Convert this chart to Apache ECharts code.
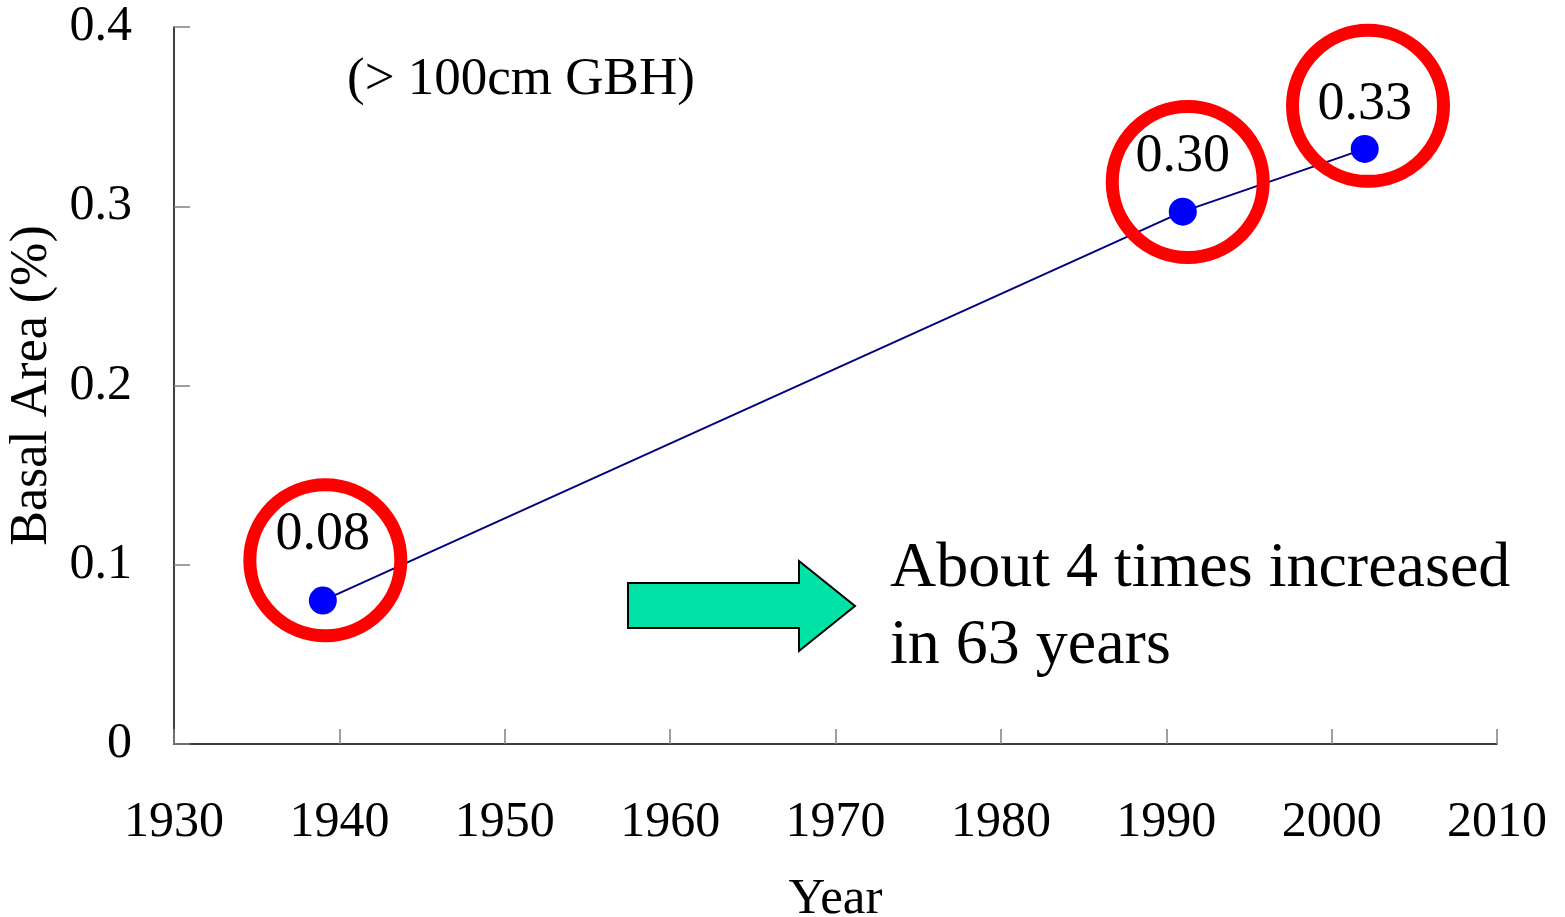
<!DOCTYPE html>
<html>
<head>
<meta charset="utf-8">
<script src="https://cdn.jsdelivr.net/npm/echarts@6/dist/echarts.min.js"></script>
<style>
html,body{margin:0;padding:0;background:#fff;}
#chart{width:1565px;height:917px;}
</style>
</head>
<body>
<div id="chart"></div>
<script>
// Data
const years = [1939, 1991, 2002];
const basalArea = [0.08, 0.297, 0.332];
const pointLabels = ['0.08', '0.30', '0.33'];
const labelDistances = [25, 14, 3];
// Highlight circle annotation centres (data coordinates)
const circleYears = [1939.15, 1991.3, 2002.2];
const circleValues = [0.1025, 0.3135, 0.356];
const xTicks = [1930, 1940, 1950, 1960, 1970, 1980, 1990, 2000, 2010];
const yTicks = [0, 0.1, 0.2, 0.3, 0.4];
const noteText = '(> 100cm GBH)';
const conclusionText = 'About 4 times increased\nin 63 years';

const FONT = "'Liberation Serif', 'Times New Roman', serif";

const chart = echarts.init(document.getElementById('chart'), null, {renderer: 'canvas'});

const lineData = years.map((y, i) => ({
  value: [y, basalArea[i]],
  label: {show: true, formatter: pointLabels[i], distance: labelDistances[i]}
}));
const circleData = circleYears.map((y, i) => [y, circleValues[i]]);

const option = {
  backgroundColor: '#ffffff',
  animation: false,
  grid: {left: 174, right: 68, top: 27, bottom: 173, containLabel: false, outerBoundsMode: 'none'},
  xAxis: {
    type: 'value',
    min: xTicks[0],
    max: xTicks[xTicks.length - 1],
    interval: 10,
    name: 'Year',
    nameLocation: 'middle',
    nameGap: 130,
    nameTextStyle: {fontFamily: FONT, fontSize: 51, color: '#000'},
    axisLine: {lineStyle: {color: '#000', width: 1.5}},
    axisTick: {inside: true, length: 15, lineStyle: {color: '#808080', width: 1.5}},
    axisLabel: {fontFamily: FONT, fontSize: 50, color: '#000', margin: 54,
      formatter: v => String(v)},
    splitLine: {show: false}
  },
  yAxis: {
    type: 'value',
    min: yTicks[0],
    max: yTicks[yTicks.length - 1],
    interval: 0.1,
    name: 'Basal Area (%)',
    nameLocation: 'middle',
    nameGap: 112,
    nameTextStyle: {fontFamily: FONT, fontSize: 52, color: '#000'},
    axisLine: {show: true, lineStyle: {color: '#000', width: 1.5}},
    axisTick: {show: true, inside: true, length: 16, lineStyle: {color: '#808080', width: 1.5}},
    axisLabel: {fontFamily: FONT, fontSize: 50, color: '#000', margin: 42,
      formatter: v => (v === 0 ? '0' : v.toFixed(1))},
    splitLine: {show: false}
  },
  series: [
    {
      type: 'line',
      data: lineData,
      symbol: 'circle',
      symbolSize: 28,
      lineStyle: {color: '#000080', width: 2},
      itemStyle: {color: '#0000FF'},
      label: {position: 'top', fontFamily: FONT, fontSize: 54, color: '#000'},
      z: 2
    },
    {
      type: 'scatter',
      data: circleData,
      symbol: 'circle',
      symbolSize: 151,
      silent: true,
      itemStyle: {color: 'rgba(0,0,0,0)', borderColor: '#FF0000', borderWidth: 13, opacity: 1},
      z: 3
    }
  ],
  graphic: [
    {
      type: 'text',
      left: 347,
      top: 54,
      style: {text: noteText, font: '53px ' + FONT, fill: '#000'}
    },
    {
      type: 'polygon',
      shape: {points: [[628, 583], [799, 583], [799, 561], [855, 606], [799, 651], [799, 628], [628, 628]]},
      style: {fill: '#00E2A6', stroke: '#000', lineWidth: 2}
    },
    {
      type: 'text',
      left: 890,
      top: 531,
      style: {text: conclusionText, font: '64px ' + FONT, fill: '#000', lineHeight: 77}
    }
  ]
};
chart.setOption(option);
</script>
</body>
</html>
